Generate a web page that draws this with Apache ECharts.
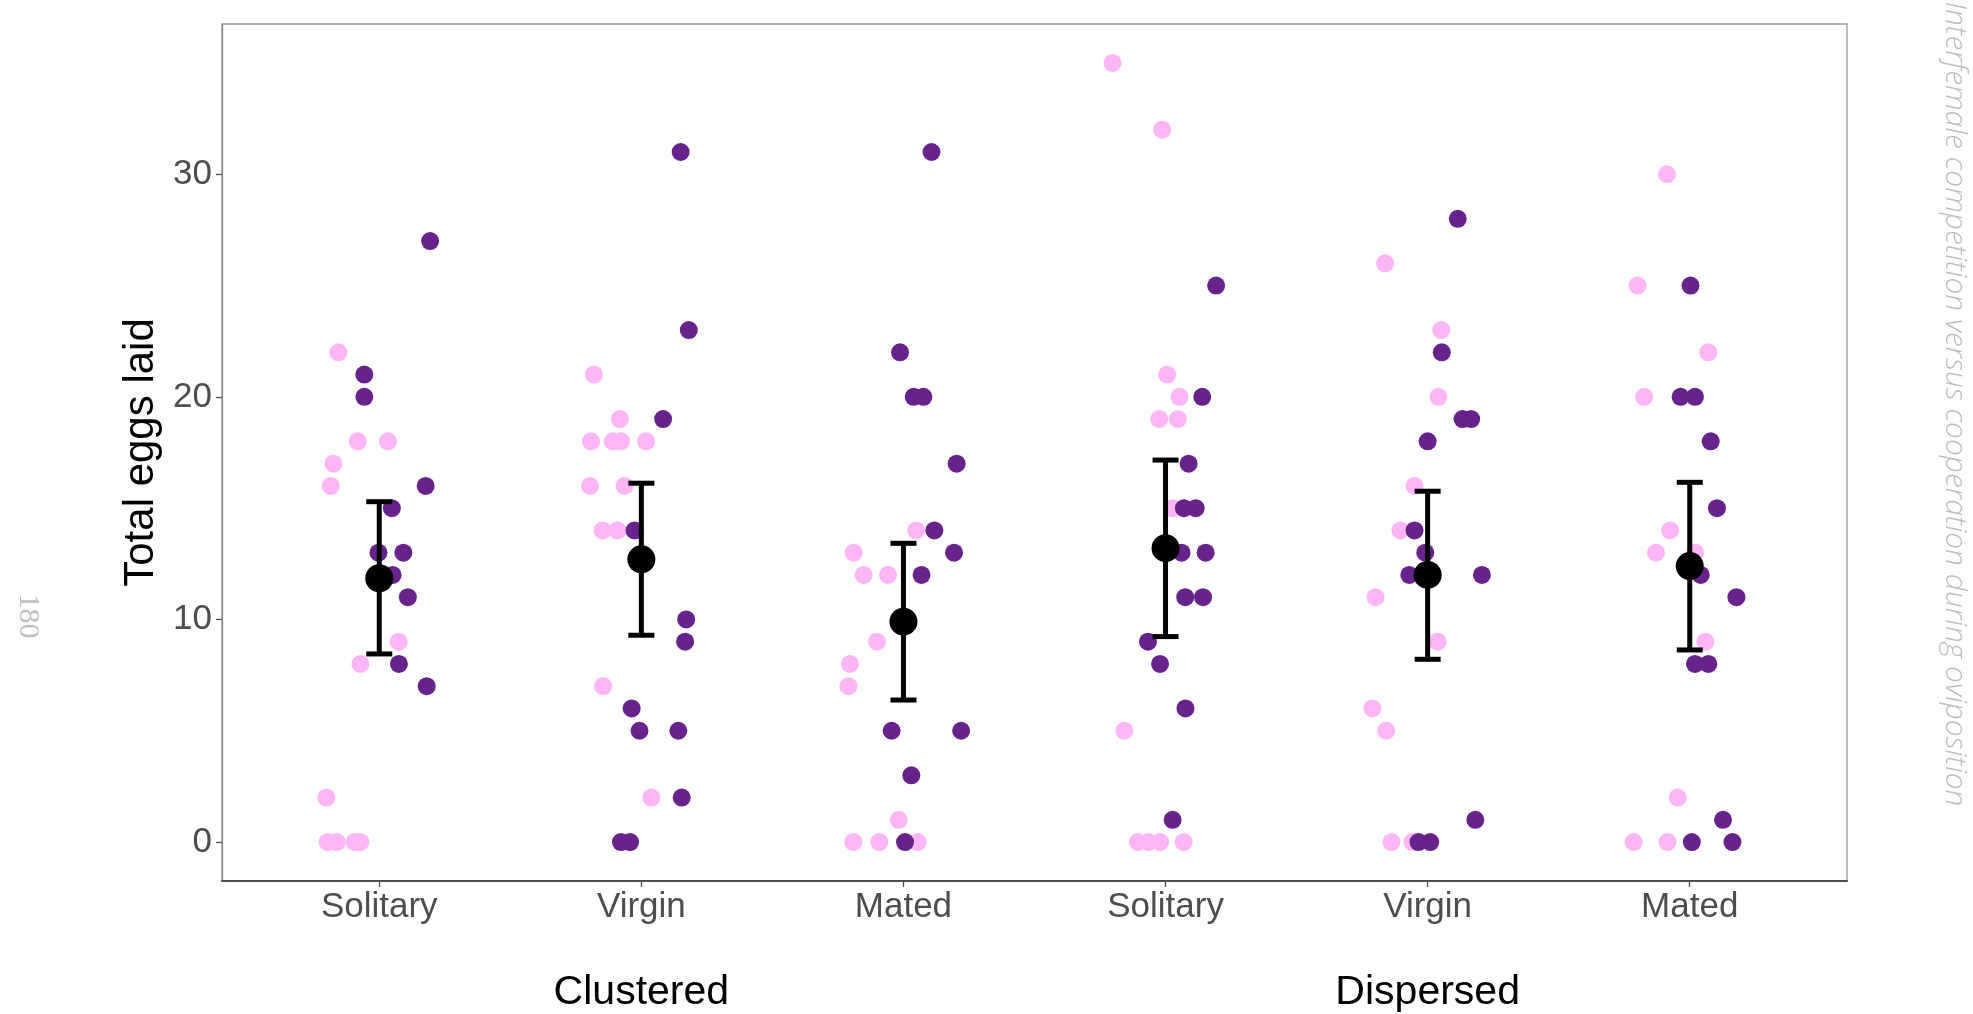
<!DOCTYPE html>
<html>
<head>
<meta charset="utf-8">
<title>Total eggs laid</title>
<script src="https://cdn.jsdelivr.net/npm/echarts@6/dist/echarts.min.js"></script>
<style>
  html, body { margin: 0; padding: 0; background: #fff; }
  #chart { width: 1973px; height: 1014px; }
</style>
</head>
<body>
<div id="chart"></div>
<script>
// Treatment conditions along the x axis (two oviposition layouts x three social contexts)
const categories = ['Solitary', 'Virgin', 'Mated', 'Solitary', 'Virgin', 'Mated'];
const layouts = ['Clustered', 'Dispersed'];
const yTicks = [0, 10, 20, 30];

// Eggs laid per female, light group, one list per condition
const lightEggs = [
  [22, 18, 18, 17, 16, 9, 8, 2, 0, 0, 0, 0],
  [21, 19, 18, 18, 18, 18, 16, 16, 14, 14, 7, 2],
  [14, 13, 12, 12, 9, 8, 7, 1, 0, 0, 0],
  [35, 32, 21, 20, 19, 19, 15, 5, 0, 0, 0, 0],
  [26, 23, 20, 16, 14, 11, 9, 6, 5, 0, 0],
  [30, 25, 22, 20, 14, 13, 13, 9, 2, 0, 0]
];
// Horizontal jitter of each light point (in category units)
const lightJitter = [
  [-0.156, -0.082, 0.033, -0.175, -0.185, 0.074, -0.072, -0.202, -0.197, -0.162, -0.094, -0.072],
  [-0.181, -0.082, -0.192, -0.109, -0.078, 0.018, -0.196, -0.064, -0.148, -0.091, -0.146, 0.038],
  [0.049, -0.190, -0.152, -0.059, -0.101, -0.204, -0.210, -0.018, -0.191, -0.092, 0.054],
  [-0.202, -0.013, 0.006, 0.053, -0.024, 0.047, 0.027, -0.157, -0.105, -0.064, -0.021, 0.069],
  [-0.162, 0.052, 0.041, -0.050, -0.104, -0.199, 0.038, -0.211, -0.158, -0.138, -0.058],
  [-0.087, -0.199, 0.071, -0.174, -0.075, -0.129, 0.020, 0.060, -0.046, -0.214, -0.085]
];

// Eggs laid per female, dark group
const darkEggs = [
  [27, 21, 20, 16, 15, 13, 13, 12, 11, 8, 7],
  [31, 23, 19, 14, 10, 9, 6, 5, 5, 2, 0, 0],
  [31, 22, 20, 20, 17, 14, 13, 12, 5, 5, 3, 0],
  [25, 20, 17, 15, 15, 13, 13, 11, 11, 9, 8, 6, 1],
  [28, 22, 19, 19, 18, 14, 13, 12, 12, 1, 0, 0],
  [25, 20, 20, 18, 15, 12, 11, 8, 8, 1, 0, 0]
];
const darkJitter = [
  [0.194, -0.057, -0.057, 0.177, 0.048, -0.003, 0.092, 0.051, 0.109, 0.075, 0.181],
  [0.150, 0.181, 0.083, -0.026, 0.171, 0.167, -0.037, -0.007, 0.141, 0.154, -0.078, -0.043],
  [0.107, -0.013, 0.039, 0.076, 0.203, 0.118, 0.193, 0.069, -0.045, 0.220, 0.030, 0.006],
  [0.193, 0.140, 0.088, 0.070, 0.115, 0.061, 0.153, 0.075, 0.143, -0.067, -0.021, 0.076, 0.027],
  [0.115, 0.054, 0.133, 0.166, 0.000, -0.050, -0.009, -0.070, 0.207, 0.182, -0.035, 0.010],
  [0.003, -0.035, 0.020, 0.080, 0.104, 0.042, 0.178, 0.020, 0.071, 0.127, 0.008, 0.163]
];

// Condition means with confidence interval bounds
const meanEggs = [11.85, 12.70, 9.90, 13.20, 12.00, 12.40];
const ciLow = [8.45, 9.29, 6.38, 9.23, 8.21, 8.63];
const ciHigh = [15.29, 16.12, 13.42, 17.16, 15.76, 16.16];

function jittered(values, jitter) {
  const out = [];
  values.forEach((list, i) => {
    list.forEach((v, j) => out.push([i + 1 + jitter[i][j], v]));
  });
  return out;
}

const chart = echarts.init(document.getElementById('chart'), null, { renderer: 'canvas' });

const tickFont = { fontFamily: 'Liberation Sans', fontSize: 35, color: '#4D4D4D' };

chart.setOption({
  animation: false,
  backgroundColor: '#ffffff',
  grid: {
    left: 222, top: 24, width: 1625, height: 857,
    show: true, borderColor: '#9a9a9a', borderWidth: 1.3, backgroundColor: 'transparent'
  },
  xAxis: {
    type: 'value',
    min: 0.4, max: 6.6,
    splitLine: { show: false },
    axisLine: { show: true, onZero: false, lineStyle: { color: '#4d4d4d', width: 1.8 } },
    axisTick: { show: true, length: 6, customValues: categories.map((c, i) => i + 1), lineStyle: { color: '#4d4d4d', width: 1.3 } },
    axisLabel: Object.assign({
      margin: 9,
      customValues: categories.map((c, i) => i + 1),
      formatter: v => categories[Math.round(v) - 1]
    }, tickFont)
  },
  yAxis: {
    type: 'value',
    min: -1.75, max: 36.75,
    name: 'Total eggs laid',
    nameLocation: 'middle',
    nameGap: 57,
    nameTextStyle: { fontFamily: 'Liberation Sans', fontSize: 42, color: '#000000' },
    splitLine: { show: false },
    axisLine: { show: true, onZero: false, lineStyle: { color: '#888888', width: 1.3 } },
    axisTick: { show: true, length: 6, customValues: yTicks, lineStyle: { color: '#4d4d4d', width: 1.3 } },
    axisLabel: Object.assign({ margin: 10, customValues: yTicks }, tickFont)
  },
  series: [
    {
      name: 'light',
      type: 'scatter',
      symbol: 'circle',
      symbolSize: 18,
      itemStyle: { color: '#FFB6F6', opacity: 1 },
      data: jittered(lightEggs, lightJitter),
      z: 2
    },
    {
      name: 'dark',
      type: 'scatter',
      symbol: 'circle',
      symbolSize: 18,
      itemStyle: { color: '#68228B', opacity: 1 },
      data: jittered(darkEggs, darkJitter),
      z: 3
    },
    {
      name: 'interval',
      type: 'custom',
      z: 4,
      encode: { x: 0, y: [1, 2] },
      data: categories.map((c, i) => [i + 1, ciLow[i], ciHigh[i]]),
      renderItem: function (params, api) {
        const x = api.value(0);
        const top = api.coord([x, api.value(2)]);
        const bot = api.coord([x, api.value(1)]);
        const half = 13;
        const st = { stroke: '#000000', lineWidth: 5 };
        return {
          type: 'group',
          children: [
            { type: 'line', shape: { x1: top[0], y1: top[1], x2: bot[0], y2: bot[1] }, style: st },
            { type: 'line', shape: { x1: top[0] - half, y1: top[1], x2: top[0] + half, y2: top[1] }, style: st },
            { type: 'line', shape: { x1: bot[0] - half, y1: bot[1], x2: bot[0] + half, y2: bot[1] }, style: st }
          ]
        };
      }
    },
    {
      name: 'mean',
      type: 'scatter',
      symbol: 'circle',
      symbolSize: 28,
      itemStyle: { color: '#000000', opacity: 1 },
      data: meanEggs.map((m, i) => [i + 1, m]),
      z: 5
    }
  ]
});

// Layout group titles centred under the middle condition of each block
const groupCentres = [2, 5].map(c => chart.convertToPixel({ gridIndex: 0 }, [c, 0])[0]);
chart.setOption({
  graphic: [
    ...layouts.map((name, i) => ({
      type: 'text',
      x: groupCentres[i],
      y: 993,
      style: {
        text: name,
        font: '41px "Liberation Sans"',
        fill: '#000000',
        align: 'center', verticalAlign: 'middle',
        textAlign: 'center', textVerticalAlign: 'middle'
      }
    })),
    {
      type: 'text',
      x: 28, y: 616,
      rotation: -Math.PI / 2,
      style: {
        text: '180',
        font: '30px "Liberation Serif"',
        fill: '#BDBDBD',
        align: 'center', verticalAlign: 'middle',
        textAlign: 'center', textVerticalAlign: 'middle'
      }
    },
    {
      type: 'text',
      x: 1955, y: 404,
      rotation: -Math.PI / 2,
      style: {
        text: 'Interfemale competition versus cooperation during oviposition',
        font: 'italic 300 30px "Open Sans"',
        fill: '#BDBDBD',
        align: 'center', verticalAlign: 'middle',
        textAlign: 'center', textVerticalAlign: 'middle'
      }
    }
  ]
});
</script>
</body>
</html>
